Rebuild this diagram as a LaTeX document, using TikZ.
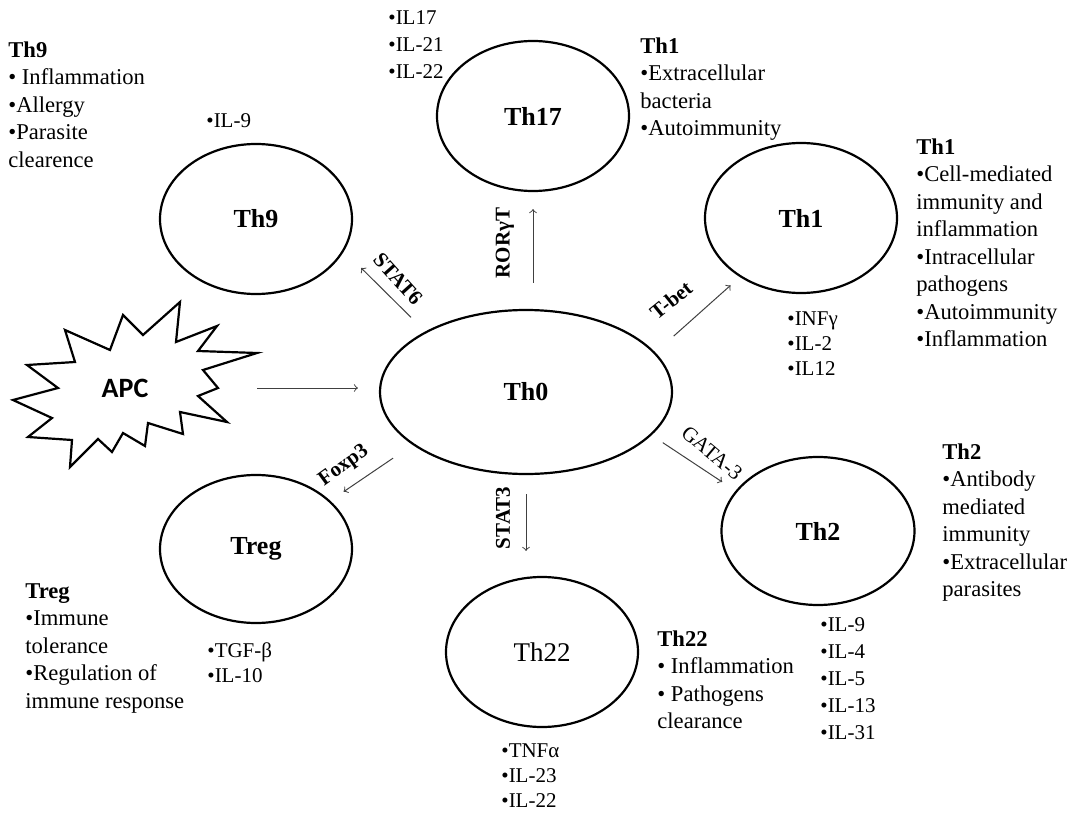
\documentclass[tikz,border=0pt]{standalone}
\usepackage{fontspec}
\setmainfont{Liberation Serif}
\newfontfamily\apcfont{Carlito}
\usepackage{tikz}
\usetikzlibrary{shapes.geometric}

\begin{document}
\begin{tikzpicture}[x=0.5pt,y=-0.5pt,
	cell/.style={draw,ellipse,line width=1.1pt,inner sep=0pt,font=\fontsize{13}{15}\selectfont\bfseries},
	note/.style={anchor=north west,align=left,inner sep=0pt,font=\fontsize{11.3}{13.75}\selectfont},
	cyto/.style={anchor=north west,align=left,inner sep=0pt,font=\fontsize{10.5}{12.7}\selectfont},
	factor/.style={inner sep=0pt,font=\fontsize{10.5}{12}\selectfont\bfseries},
	link/.style={->,black!75,line width=0.5pt}]
	\useasboundingbox (0,0) rectangle (1067,813);
	
	% cells
	\node[cell,minimum width=146pt,minimum height=82pt] (th0) at (526,392) {Th0};
	\node[cell,minimum width=96pt,minimum height=75pt] (th17) at (533,116) {Th17};
	\node[cell,minimum width=96pt,minimum height=75pt] (th9) at (256,219) {Th9};
	\node[cell,minimum width=96pt,minimum height=75pt] (th1) at (801,218) {Th1};
	\node[cell,minimum width=96.5pt,minimum height=74pt] (th2) at (818,531) {Th2};
	\node[cell,minimum width=96pt,minimum height=74pt] (treg) at (256,549) {Treg};
	\node[cell,minimum width=96pt,minimum height=75pt,font=\fontsize{13.5}{15}\selectfont] (th22) at (542,652) {Th22};
	
	% APC
	\draw[line width=1.1pt,line join=miter] (180,302) -- (176,342) -- (217,326) -- (198,351) -- (257,353) -- (203,370) -- (218,388) -- (198,396) -- (227,422) -- (180,412) -- (183,434) -- (148,423) -- (145,446) -- (123,433) -- (112,452) -- (98,439) -- (70,467) -- (72,440) -- (28,437) -- (52,418) -- (13,400) -- (58,388) -- (27,365) -- (75,362) -- (65,330) -- (110,350) -- (123,315) -- (143,335) -- cycle;
	\node[font=\apcfont\fontsize{14}{16}\selectfont\bfseries] (apc) at (125,388) {APC};
	
	% arrows
	\draw[link,shorten <=66pt,shorten >=10.5pt] (apc.center) -- (apc.center -| th0.west);
	\draw[link,shorten <=10pt,shorten >=12pt] (th0.149) -- (th9.340.5);
	\draw[link,shorten <=13pt,shorten >=8.5pt] (th0.north -| th17.south) -- (th17.south);
	\draw[link,shorten <=12.3pt,shorten >=6.2pt] (th0.17.5) -- (th1.224.7);
	\draw[link,shorten <=6.7pt,shorten >=8pt] (th0.341.9) -- (th2.154.6);
	\draw[link,shorten <=11.8pt,shorten >=8pt] (th0.205.5) -- (treg.33.3);
	\draw[link,shorten <=9.5pt,shorten >=12.5pt] (th0.south) -- (th0.south |- th22.north);
	
	\node[factor,rotate=-48] (stat6) at (398,279) {STAT6};
	\node[factor,rotate=90] (rorgt) at (505,243) {RORγT};
	\node[factor,rotate=39] (tbet) at (671,300) {T-bet};
	\node[factor,font=\fontsize{10.5}{12}\selectfont,rotate=-40] (gata3) at (712,453) {GATA-3};
	\node[factor,rotate=36] (foxp3) at (344,466) {Foxp3};
	\node[factor,rotate=90] (stat3) at (503,518) {STAT3};
	
	% functions and cytokines
	\node[note] (th9info) at (8,41) {\textbf{Th9}\\• Inflammation\\•Allergy\\•Parasite\\clearence};
	\node[cyto] (th9cyt) at (206,113) {•IL-9};
	\node[cyto,font=\fontsize{10.5}{13.5}\selectfont] (th17cyt) at (388,10) {•IL17\\•IL-21\\•IL-22};
	\node[note] (th17info) at (640,37) {\textbf{Th1}\\•Extracellular\\bacteria\\•Autoimmunity};
	\node[note] (th1info) at (916,138) {\textbf{Th1}\\•Cell-mediated\\immunity and\\inflammation\\•Intracellular\\pathogens\\•Autoimmunity\\•Inflammation};
	\node[cyto] (th1cyt) at (787,311) {•INFγ\\•IL-2\\•IL12};
	\node[note] (th2info) at (942,443) {\textbf{Th2}\\•Antibody\\mediated\\immunity\\•Extracellular\\parasites};
	\node[cyto,font=\fontsize{10.5}{13.5}\selectfont] (th2cyt) at (820,617) {•IL-9\\•IL-4\\•IL-5\\•IL-13\\•IL-31};
	\node[note] (th22info) at (657,630) {\textbf{Th22}\\• Inflammation\\• Pathogens\\clearance};
	\node[cyto] (th22cyt) at (501,743) {•TNFα\\•IL-23\\•IL-22};
	\node[note] (treginfo) at (25,583) {\textbf{Treg}\\•Immune\\tolerance\\•Regulation of\\immune response};
	\node[cyto] (tregcyt) at (207,642) {•TGF-β\\•IL-10};
\end{tikzpicture}
\end{document}
